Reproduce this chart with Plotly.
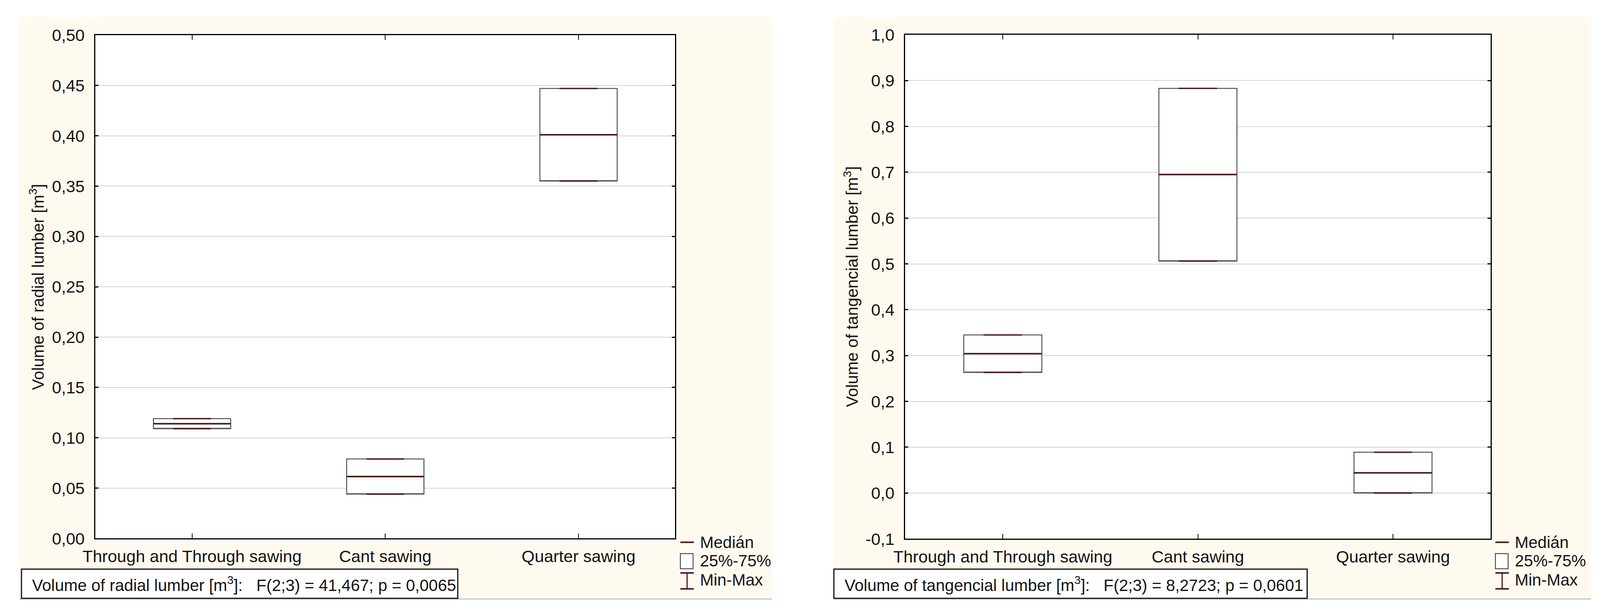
import plotly.graph_objects as go

# ---------------- data ----------------
categories = ["Through and Through sawing", "Cant sawing", "Quarter sawing"]

radial_min = [0.109, 0.044, 0.355]
radial_q1 = [0.109, 0.044, 0.355]
radial_median = [0.114, 0.0615, 0.401]
radial_q3 = [0.119, 0.079, 0.447]
radial_max = [0.119, 0.079, 0.447]

tang_min = [0.263, 0.506, 0.000]
tang_q1 = [0.263, 0.506, 0.000]
tang_median = [0.304, 0.695, 0.044]
tang_q3 = [0.345, 0.883, 0.089]
tang_max = [0.345, 0.883, 0.089]

radial_tickvals = [0.00, 0.05, 0.10, 0.15, 0.20, 0.25, 0.30, 0.35, 0.40, 0.45, 0.50]
radial_ticktext = ["0,00", "0,05", "0,10", "0,15", "0,20", "0,25", "0,30", "0,35", "0,40", "0,45", "0,50"]
tang_tickvals = [-0.1, 0.0, 0.1, 0.2, 0.3, 0.4, 0.5, 0.6, 0.7, 0.8, 0.9, 1.0]
tang_ticktext = ["-0,1", "0,0", "0,1", "0,2", "0,3", "0,4", "0,5", "0,6", "0,7", "0,8", "0,9", "1,0"]

radial_title = "Volume of radial lumber [m<sup>3</sup>]"
tang_title = "Volume of tangencial lumber [m<sup>3</sup>]"
radial_stat = "Volume of radial lumber [m<sup>3</sup>]:\u00a0\u00a0 F(2;3) = 41,467; p = 0,0065"
tang_stat = "Volume of tangencial lumber [m<sup>3</sup>]:\u00a0\u00a0 F(2;3) = 8,2723; p = 0,0601"
legend_labels = ["Medián", "25%-75%", "Min-Max"]

# ---------------- style ----------------
W, H = 4249, 1577
FONT = "Liberation Sans, Arial, sans-serif"
FS = 43
TXT = "#141414"
CREAM = "#FFFAF0"
MAROON = "#4A1A1A"
BOXGRAY = "#555555"
GRID = "#D4D4D4"
BOXW = 0.4
CAPW = 0.49 * BOXW


def px(x):
    return x / W


def py(y):
    return 1 - y / H


panels = [
    dict(xa="x", ya="y", plot=(221, 1773, 68, 1397), cream=(17, 2033, 21, 1557),
         stat=(23, 1191, 1478, 1555), legend_x=1787,
         mn=radial_min, q1=radial_q1, med=radial_median, q3=radial_q3, mx=radial_max,
         rng=[0, 0.5], tv=radial_tickvals, tt=radial_ticktext,
         title=radial_title, stat_text=radial_stat),
    dict(xa="x2", ya="y2", plot=(2389, 3956, 67, 1398), cream=(2197, 4225, 21, 1557),
         stat=(2198, 3465, 1478, 1555), legend_x=3969,
         mn=tang_min, q1=tang_q1, med=tang_median, q3=tang_q3, mx=tang_max,
         rng=[-0.1, 1.0], tv=tang_tickvals, tt=tang_ticktext,
         title=tang_title, stat_text=tang_stat),
]

fig = go.Figure()
shapes = []
annotations = []


def flat_box(x, y, width, color, lw, axes):
    # a degenerate box (q1 = median = q3) draws a single horizontal line at y
    return go.Box(x=x, q1=y, median=y, q3=y, lowerfence=y, upperfence=y,
                  width=width, whiskerwidth=0, boxpoints=False,
                  fillcolor="rgba(0,0,0,0)", line=dict(color=color, width=lw),
                  xaxis=axes[0], yaxis=axes[1], showlegend=False, hoverinfo="skip")


for i, p in enumerate(panels):
    x0, x1, y0, y1 = p["plot"]
    axes = (p["xa"], p["ya"])

    # box (25%-75%)
    fig.add_trace(go.Box(
        x=categories, q1=p["q1"], median=p["q1"], q3=p["q3"],
        lowerfence=p["q1"], upperfence=p["q3"],
        width=BOXW, whiskerwidth=0, boxpoints=False,
        fillcolor="white", line=dict(color=BOXGRAY, width=2.5),
        xaxis=p["xa"], yaxis=p["ya"], showlegend=False, hoverinfo="skip",
    ))
    # min / max caps
    fig.add_trace(flat_box(categories, p["mn"], CAPW, MAROON, 3.5, axes))
    fig.add_trace(flat_box(categories, p["mx"], CAPW, MAROON, 3.5, axes))
    # median
    fig.add_trace(flat_box(categories, p["med"], BOXW, MAROON, 4, axes))

    # cream panel background + white plot area
    cx0, cx1, cy0, cy1 = p["cream"]
    shapes.append(dict(type="rect", xref="paper", yref="paper", layer="below",
                       x0=px(cx0), x1=px(cx1), y0=py(cy1), y1=py(cy0),
                       fillcolor=CREAM, line=dict(width=0)))
    shapes.append(dict(type="line", xref="paper", yref="paper", layer="below",
                       x0=px(cx0), x1=px(cx1), y0=py(cy1), y1=py(cy1),
                       line=dict(color="#C8C8C8", width=3)))
    shapes.append(dict(type="rect", xref="paper", yref="paper", layer="below",
                       x0=px(x0), x1=px(x1), y0=py(y1), y1=py(y0),
                       fillcolor="white", line=dict(width=0)))

    # stat box
    sx0, sx1, sy0, sy1 = p["stat"]
    shapes.append(dict(type="rect", xref="paper", yref="paper",
                       x0=px(sx0), x1=px(sx1), y0=py(sy1), y1=py(sy0),
                       fillcolor="white", line=dict(color="#111111", width=3)))
    annotations.append(dict(xref="paper", yref="paper", x=px(sx0 + 26), y=py((sy0 + sy1) / 2 + 1),
                            xanchor="left", yanchor="middle", showarrow=False,
                            text=p["stat_text"], font=dict(family=FONT, size=42, color=TXT)))

    # y title
    annotations.append(dict(xref="paper", yref="paper", x=px(cx0 + 47), y=py((y0 + y1) / 2),
                            xanchor="center", yanchor="middle", showarrow=False, textangle=-90,
                            text=p["title"], font=dict(family=FONT, size=42, color=TXT)))

    # legend
    lx = p["legend_x"]
    rows = [1407, 1456, 1506]
    shapes.append(dict(type="line", xref="paper", yref="paper",
                       x0=px(lx), x1=px(lx + 36), y0=py(rows[0]), y1=py(rows[0]),
                       line=dict(color=MAROON, width=4)))
    shapes.append(dict(type="rect", xref="paper", yref="paper",
                       x0=px(lx), x1=px(lx + 34), y0=py(rows[1] + 21), y1=py(rows[1] - 19),
                       fillcolor="white", line=dict(color=BOXGRAY, width=2.5)))
    for yy in (rows[2] - 18, rows[2] + 24):
        shapes.append(dict(type="line", xref="paper", yref="paper",
                           x0=px(lx), x1=px(lx + 36), y0=py(yy), y1=py(yy),
                           line=dict(color=MAROON, width=4)))
    shapes.append(dict(type="line", xref="paper", yref="paper",
                       x0=px(lx + 18), x1=px(lx + 18), y0=py(rows[2] - 18), y1=py(rows[2] + 24),
                       line=dict(color=MAROON, width=3)))
    for lab, yy in zip(legend_labels, rows):
        annotations.append(dict(xref="paper", yref="paper", x=px(lx + 50), y=py(yy),
                                xanchor="left", yanchor="middle", showarrow=False,
                                text=lab, font=dict(family=FONT, size=42, color=TXT)))

layout_axes = {}
for i, p in enumerate(panels):
    x0, x1, y0, y1 = p["plot"]
    sfx = "" if i == 0 else str(i + 1)
    layout_axes["xaxis" + sfx] = dict(
        domain=[px(x0), px(x1)], anchor="y" + sfx, type="category",
        range=[-0.5, len(categories) - 0.5], categoryorder="array", categoryarray=categories,
        showline=True, linewidth=3, linecolor="black", mirror="ticks",
        ticks="inside", ticklen=12, tickwidth=2, tickcolor="black",
        showgrid=False, zeroline=False, ticklabelstandoff=6,
        tickfont=dict(family=FONT, size=FS, color=TXT), fixedrange=True,
    )
    layout_axes["yaxis" + sfx] = dict(
        domain=[py(y1), py(y0)], anchor="x" + sfx, range=p["rng"],
        tickvals=p["tv"], ticktext=p["tt"],
        showline=True, linewidth=3, linecolor="black", mirror="ticks",
        ticks="inside", ticklen=8, tickwidth=3, tickcolor="black",
        showgrid=True, gridcolor=GRID, gridwidth=2, zeroline=False, ticklabelstandoff=16,
        tickfont=dict(family=FONT, size=FS, color=TXT), fixedrange=True,
    )

fig.update_layout(
    autosize=True,
    margin=dict(l=0, r=0, t=0, b=0, pad=0),
    paper_bgcolor="white", plot_bgcolor="white",
    boxmode="overlay", showlegend=False,
    font=dict(family=FONT, size=FS, color=TXT),
    shapes=shapes, annotations=annotations,
    **layout_axes,
)

post = (
    "document.documentElement.style.margin='0';"
    "document.documentElement.style.overflow='hidden';"
    "document.body.style.margin='0';"
    "document.body.style.overflow='hidden';"
    "var gd=document.getElementById('{plot_id}');"
    "gd.style.width='100vw';gd.style.height='100vh';"
    "if(gd.parentNode){gd.parentNode.style.margin='0';}"
    "Plotly.Plots.resize(gd);"
)

fig.write_html("out.html", config={"displayModeBar": False, "responsive": True},
               default_width="100vw", default_height="100vh", post_script=post)
